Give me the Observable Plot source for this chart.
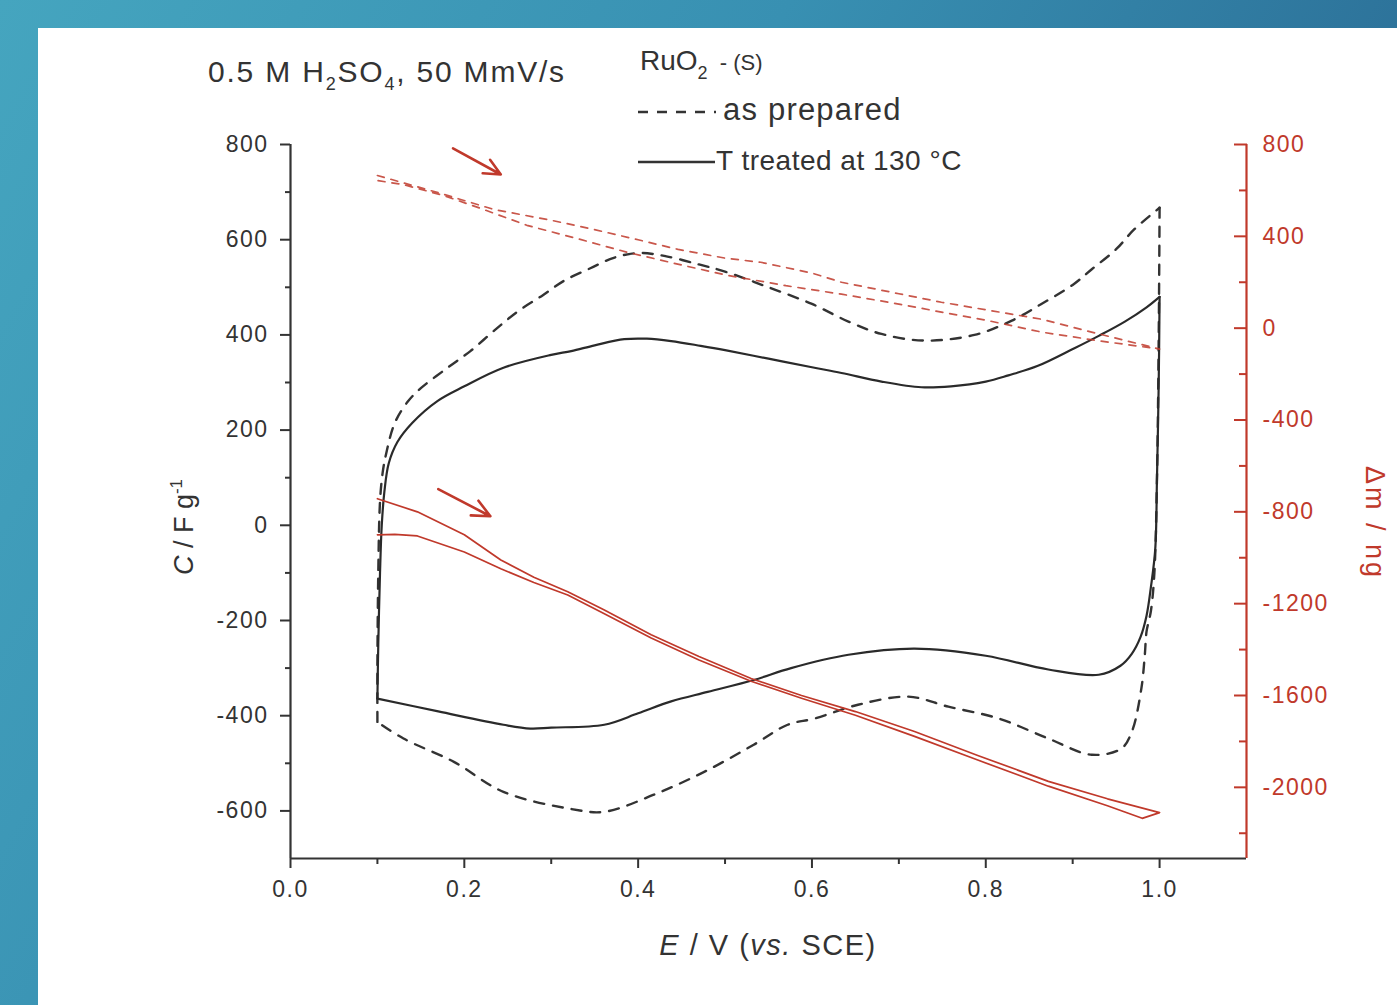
<!DOCTYPE html>
<html><head><meta charset="utf-8">
<script src="https://cdn.jsdelivr.net/npm/d3@7"></script>
<script src="https://cdn.jsdelivr.net/npm/@observablehq/plot@0.6"></script>
<style>
html,body{margin:0;padding:0;}
body{width:1397px;height:1005px;overflow:hidden;position:relative;
  background:linear-gradient(120deg,#45a5bf 0%,#3890b2 40%,#2c7098 75%,#29668d 100%);
  font-family:"Liberation Sans",Arial,sans-serif;}
#panel{position:absolute;left:38px;top:28px;width:1359px;height:977px;background:#fff;}
#chart{position:absolute;left:0;top:0;}
#overlay{position:absolute;left:0;top:0;pointer-events:none;font-family:"Liberation Sans",Arial,sans-serif;}
</style></head><body>
<div id="panel"><div id="chart"></div></div>
<svg id="overlay" width="1397" height="1005">
  <text x="208" y="82" font-size="30" letter-spacing="1.8" fill="#333">0.5 M H<tspan dy="8" font-size="18">2</tspan><tspan dy="-8">SO</tspan><tspan dy="8" font-size="18">4</tspan><tspan dy="-8">, 50 MmV/s</tspan></text>
  <text x="640" y="70" font-size="28" fill="#333">RuO<tspan dy="9" font-size="18">2</tspan><tspan dy="-9" font-size="22" xml:space="preserve">  - (S)</tspan></text>
  <line x1="638" y1="112" x2="716" y2="112" stroke="#333" stroke-width="2.4" stroke-dasharray="10,9"/>
  <text x="723" y="120" font-size="31" letter-spacing="1.2" fill="#333">as prepared</text>
  <line x1="638" y1="162" x2="715" y2="162" stroke="#333" stroke-width="2.4"/>
  <text x="716" y="170" font-size="28" letter-spacing="0.5" fill="#333">T treated at 130 °C</text>
  <text transform="translate(193,527) rotate(-90)" text-anchor="middle" font-size="27" fill="#333"><tspan font-style="italic">C</tspan> / F g<tspan dy="-11" font-size="17">-1</tspan></text>
  <text transform="translate(1366,523) rotate(90)" text-anchor="middle" font-size="27" letter-spacing="3" fill="#c0392b">Δm / ng</text>
  <text x="768" y="955" text-anchor="middle" font-size="29" letter-spacing="1.5" fill="#333"><tspan font-style="italic">E</tspan> / V (<tspan font-style="italic">vs.</tspan> SCE)</text>
</svg>
<script>
// ---- data (E in V vs SCE, C in F/g, mass change in ng) ----
// anodic branch (0.1 -> 1.0) followed by cathodic branch (1.0 -> 0.1)
const cvTreatedAnodicE = [0.100,0.101,0.103,0.105,0.108,0.113,0.123,0.140,0.169,0.200,0.245,0.300,0.323,0.350,0.384,0.410,0.438,0.472,0.500,0.550,0.600,0.634,0.680,0.726,0.760,0.800,0.826,0.860,0.902,0.930,0.960,0.985,1.000];
const cvTreatedAnodicC = [-364,-250,-100,0,70,130,175,215,261,292,331,358,366,378,391,392,387,377,368,350,332,320,302,290,292,302,315,335,372,398,428,458,480];
const cvTreatedCathodicE = [1.000,0.999,0.997,0.995,0.990,0.985,0.978,0.968,0.955,0.930,0.872,0.800,0.718,0.642,0.576,0.533,0.480,0.438,0.400,0.361,0.300,0.276,0.245,0.170,0.100];
const cvTreatedCathodicC = [480,300,100,-50,-130,-190,-235,-270,-295,-314,-303,-274,-259,-272,-300,-325,-350,-370,-395,-419,-425,-427,-419,-391,-364];

const cvPreparedAnodicE = [0.100,0.100,0.101,0.103,0.106,0.110,0.120,0.135,0.150,0.180,0.207,0.235,0.262,0.290,0.315,0.345,0.372,0.400,0.430,0.470,0.500,0.550,0.600,0.642,0.680,0.730,0.787,0.830,0.864,0.900,0.922,0.950,0.971,1.000];
const cvPreparedAnodicC = [-413,-300,-100,50,110,150,215,260,288,330,366,410,450,483,514,540,562,572,566,548,533,500,465,428,402,388,400,430,465,505,538,580,622,667];
const cvPreparedCathodicE = [1.000,0.999,0.997,0.994,0.990,0.985,0.983,0.979,0.968,0.956,0.922,0.872,0.815,0.757,0.711,0.653,0.603,0.572,0.533,0.476,0.418,0.361,0.323,0.245,0.188,0.130,0.100];
const cvPreparedCathodicC = [667,400,100,-100,-180,-223,-272,-343,-434,-469,-482,-448,-406,-381,-360,-377,-406,-419,-461,-518,-566,-602,-596,-560,-497,-448,-413];

const massTreatedE = [0.100,0.146,0.200,0.242,0.280,0.319,0.360,0.415,0.470,0.530,0.588,0.650,0.718,0.790,0.872,0.940,1.000,
  0.980,0.940,0.872,0.790,0.718,0.650,0.588,0.530,0.470,0.415,0.360,0.319,0.280,0.242,0.200,0.146,0.120,0.100];
const massTreatedM = [-743,-800,-900,-1010,-1085,-1148,-1225,-1335,-1430,-1526,-1600,-1670,-1757,-1860,-1974,-2050,-2110,
  -2135,-2080,-1995,-1880,-1778,-1686,-1612,-1538,-1445,-1350,-1242,-1162,-1108,-1048,-975,-905,-898,-900];

const massPreparedE = [0.100,0.170,0.234,0.300,0.349,0.400,0.446,0.500,0.541,0.600,0.634,0.700,0.749,0.800,0.864,0.930,1.000,
  0.930,0.864,0.800,0.749,0.700,0.634,0.570,0.503,0.450,0.388,0.330,0.272,0.220,0.176,0.130,0.100];
const massPreparedM = [665,590,517,470,430,385,343,305,287,240,200,150,113,80,39,-25,-91,
  -55,-17,35,70,105,148,185,230,275,330,390,448,520,578,625,643];

// scan-direction arrows (E, C units)
const arrowE1 = [0.187, 0.170];
const arrowC1 = [792, 76];
const arrowE2 = [0.242, 0.230];
const arrowC2 = [737, 19];

// axes
const xDomain = [0, 1.1];
const cDomain = [-700, 800];
const mDomain = [-2310, 800];
const xMajor = [0, 0.2, 0.4, 0.6, 0.8, 1.0];
const xMinor = [0.1, 0.3, 0.5, 0.7, 0.9];
const leftMajor = [-600, -400, -200, 0, 200, 400, 600, 800];
const leftMinor = [-500, -300, -100, 100, 300, 500, 700];
const rightMajor = [800, 400, 0, -400, -800, -1200, -1600, -2000];
const rightMinor = [600, 200, -200, -600, -1000, -1400, -1800, -2200];

// ---- build ----
const toLeft = v => cDomain[0] + (v - mDomain[0]) * (cDomain[1] - cDomain[0]) / (mDomain[1] - mDomain[0]);
const fromLeft = c => mDomain[0] + (c - cDomain[0]) * (mDomain[1] - mDomain[0]) / (cDomain[1] - cDomain[0]);
const rows = (E, V, branch = "a", f = v => v) => E.map((e, i) => ({E: e, y: f(V[i]), branch}));

const treated = [...rows(cvTreatedAnodicE, cvTreatedAnodicC, "anodic"), ...rows(cvTreatedCathodicE, cvTreatedCathodicC, "cathodic")];
const prepared = [...rows(cvPreparedAnodicE, cvPreparedAnodicC, "anodic"), ...rows(cvPreparedCathodicE, cvPreparedCathodicC, "cathodic")];
const massTreated = rows(massTreatedE, massTreatedM, "loop", toLeft);
const massPrepared = rows(massPreparedE, massPreparedM, "loop", toLeft);
const arrows = arrowE1.map((e, i) => ({x1: e, y1: arrowC1[i], x2: arrowE2[i], y2: arrowC2[i]}));

const ink = "#333";
const red = "#c0392b";

const chart = Plot.plot({
  width: 1359, height: 977,
  marginLeft: 252, marginRight: 151, marginTop: 116, marginBottom: 147,
  x: {domain: xDomain},
  y: {domain: cDomain},
  style: {fontFamily: "Liberation Sans, Arial, sans-serif", fontSize: "23px", color: ink, background: "transparent", letterSpacing: "1.5px", overflow: "visible"},
  marks: [
    Plot.line(prepared, {x: "E", y: "y", z: "branch", curve: "catmull-rom", stroke: ink, strokeWidth: 2.4, strokeDasharray: "10,9"}),
    Plot.line(treated, {x: "E", y: "y", z: "branch", curve: "catmull-rom", stroke: "#2a2a2a", strokeWidth: 2.2}),
    Plot.line(massPrepared, {x: "E", y: "y", stroke: red, strokeWidth: 1.7, strokeDasharray: "7,7", strokeOpacity: 0.85}),
    Plot.line(massTreated, {x: "E", y: "y", stroke: red, strokeWidth: 1.7}),
    Plot.arrow(arrows, {x1: "x1", y1: "y1", x2: "x2", y2: "y2", stroke: red, strokeWidth: 2.6, headLength: 12, headAngle: 50}),
    Plot.ruleX([0], {stroke: ink, strokeWidth: 2.2}),
    Plot.ruleY([cDomain[0]], {stroke: ink, strokeWidth: 2.2}),
    Plot.ruleX([xDomain[1]], {stroke: red, strokeWidth: 2.2}),
    Plot.axisX(xMajor, {tickSize: 10, tickPadding: 12, tickFormat: d3.format(".1f"), label: null, strokeWidth: 2}),
    Plot.axisX(xMinor, {tickSize: 6, tickFormat: () => "", label: null, strokeWidth: 2}),
    Plot.axisY(leftMajor, {tickSize: 10, tickPadding: 12, tickFormat: d => String(d), label: null, strokeWidth: 2}),
    Plot.axisY(leftMinor, {tickSize: 5, tickFormat: () => "", label: null, strokeWidth: 2}),
    Plot.axisY(rightMajor.map(toLeft), {anchor: "right", tickSize: -13, tickPadding: 29, tickFormat: d => String(Math.round(fromLeft(d))), color: red, label: null, strokeWidth: 2}),
    Plot.axisY(rightMinor.map(toLeft), {anchor: "right", tickSize: -8, tickFormat: () => "", color: red, label: null, strokeWidth: 2})
  ]
});
document.getElementById("chart").appendChild(chart);
</script>
</body></html>
